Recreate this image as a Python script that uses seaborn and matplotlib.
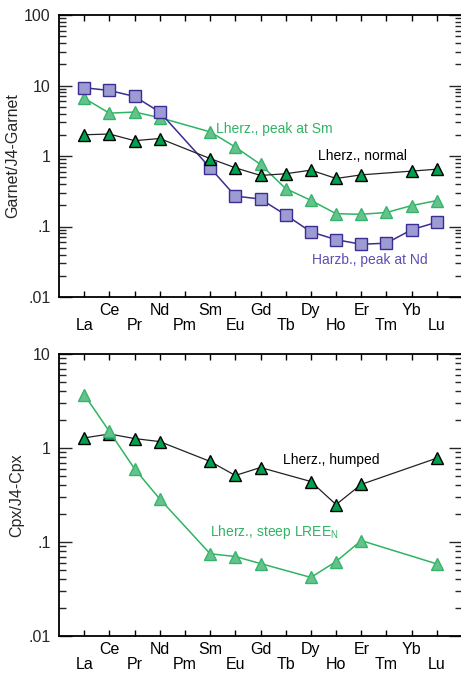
import numpy as np
import pandas as pd
import matplotlib
matplotlib.use("Agg")
import matplotlib.pyplot as plt
from matplotlib.ticker import LogLocator, FixedLocator, NullFormatter
import seaborn as sns

sns.set_theme(style="ticks")
plt.rcParams["font.family"] = ["Liberation Sans", "DejaVu Sans"]

# Rare earth elements (chondrite order)
elements = ["La", "Ce", "Pr", "Nd", "Pm", "Sm", "Eu", "Gd",
            "Tb", "Dy", "Ho", "Er", "Tm", "Yb", "Lu"]
nan = np.nan

# Garnet / J4-garnet
grt_lherz_normal = [2.0, 2.05, 1.65, 1.77, nan, 0.92, 0.68, 0.53,
                    0.56, 0.63, 0.48, 0.54, nan, 0.61, 0.65]
grt_lherz_peak_sm = [6.6, 4.05, 4.2, 3.5, nan, 2.2, 1.34, 0.76,
                     0.345, 0.235, 0.152, 0.149, 0.158, 0.198, 0.233]
grt_harzb_peak_nd = [9.3, 8.5, 7.0, 4.2, nan, 0.68, 0.27, 0.245,
                     0.146, 0.084, 0.065, 0.056, 0.058, 0.090, 0.115]

# Cpx / J4-cpx
cpx_lherz_humped = [1.28, 1.41, 1.26, 1.17, nan, 0.72, 0.51, 0.62,
                    nan, 0.44, 0.25, 0.41, nan, nan, 0.78]
cpx_lherz_steep = [3.7, 1.50, 0.60, 0.287, nan, 0.075, 0.070, 0.059,
                   nan, 0.042, 0.062, 0.1035, nan, nan, 0.0585]

LIGHT_FILL = "#66c28c"
LIGHT_EDGE = "#34b56a"
LIGHT_LINE = "#2fb464"
DARK_FILL = "#00a04e"
SQ_FILL = "#9c9cd2"
SQ_EDGE = "#3b2d92"
SQ_TEXT = "#5b4fb5"

FS = 11.5
W, H = 461, 675
fig = plt.figure(figsize=(W / 100, H / 100), dpi=100)

x_left, x_right = 59, 462
ax_top = fig.add_axes([x_left / W, 1 - 297 / H, (x_right - x_left) / W, (297 - 15) / H])
ax_bot = fig.add_axes([x_left / W, 1 - 636 / H, (x_right - x_left) / W, (636 - 354) / H])


def series_frame(values):
    df = pd.DataFrame({"pos": np.arange(len(elements)), "value": values})
    return df.dropna()


def draw(ax, values, marker, fill, edge, line, lw, z):
    sns.lineplot(data=series_frame(values), x="pos", y="value", ax=ax,
                 color=line, lw=lw, marker=marker, markersize=9,
                 markerfacecolor=fill, markeredgecolor=edge,
                 markeredgewidth=1.0, zorder=z, legend=False)


# upper panel
draw(ax_top, grt_lherz_peak_sm, "^", LIGHT_FILL, LIGHT_EDGE, LIGHT_LINE, 1.1, 3)
draw(ax_top, grt_harzb_peak_nd, "s", SQ_FILL, SQ_EDGE, SQ_EDGE, 1.1, 4)
draw(ax_top, grt_lherz_normal, "^", DARK_FILL, "black", "#222222", 0.9, 5)

# lower panel
draw(ax_bot, cpx_lherz_humped, "^", DARK_FILL, "black", "#222222", 0.9, 3)
draw(ax_bot, cpx_lherz_steep, "^", LIGHT_FILL, LIGHT_EDGE, LIGHT_LINE, 1.1, 4)

xlabels = [e if i % 2 == 1 else "\n" + e for i, e in enumerate(elements)]


def style_axis(ax, ymin, ymax, yticks, ylabels, ylabel):
    ax.set_yscale("log")
    ax.set_ylim(ymin, ymax)
    ax.set_xlim(-1, 15)
    ax.yaxis.set_major_locator(FixedLocator(yticks))
    ax.set_yticklabels(ylabels)
    ax.yaxis.set_minor_locator(LogLocator(base=10, subs=np.arange(2, 10)))
    ax.yaxis.set_minor_formatter(NullFormatter())
    ax.set_xticks(np.arange(len(elements)))
    ax.set_xticklabels(xlabels, fontsize=FS, linespacing=1.02)
    ax.set_xlabel("")
    ax.set_ylabel(ylabel, fontsize=FS, labelpad=3)
    ax.tick_params(axis="x", which="both", direction="in", length=4.5,
                   width=1.0, top=True, bottom=True, pad=4, colors="black")
    ax.tick_params(axis="y", which="major", direction="in", length=9.5,
                   width=1.0, left=True, right=True, pad=6, labelsize=FS)
    ax.tick_params(axis="y", which="minor", direction="in", length=4.8,
                   width=1.0, left=True, right=True)
    for side in ["left", "bottom", "top"]:
        ax.spines[side].set_linewidth(1.3)
        ax.spines[side].set_color("black")
    ax.spines["right"].set_visible(False)
    ax.grid(False)


style_axis(ax_top, 0.01, 100, [0.01, 0.1, 1, 10, 100],
           [".01", ".1", "1", "10", "100"], "Garnet/J4-Garnet")
style_axis(ax_bot, 0.01, 10, [0.01, 0.1, 1, 10],
           [".01", ".1", "1", "10"], "Cpx/J4-Cpx")

# series labels
ax_top.text(5.25, 2.45, "Lherz., peak at Sm", color=LIGHT_LINE, fontsize=10,
            va="center", ha="left")
ax_top.text(9.3, 1.0, "Lherz., normal", color="black", fontsize=10,
            va="center", ha="left")
ax_top.text(9.05, 0.033, "Harzb., peak at Nd", color=SQ_TEXT, fontsize=10,
            va="center", ha="left")
ax_bot.text(7.9, 0.74, "Lherz., humped", color="black", fontsize=10,
            va="center", ha="left")
ax_bot.text(5.0, 0.128, r"Lherz., steep LREE$_{\mathregular{N}}$", color=LIGHT_LINE,
            fontsize=10, va="center", ha="left")

fig.savefig("out.png", dpi=100)
